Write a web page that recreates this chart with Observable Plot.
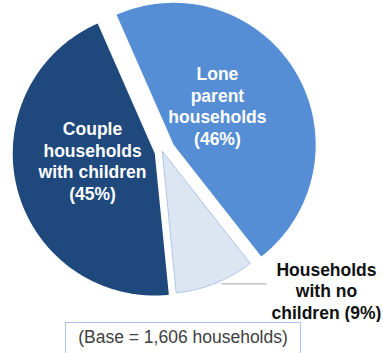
<!DOCTYPE html>
<html><head><meta charset="utf-8">
<script src="https://cdn.jsdelivr.net/npm/d3@7"></script>
<script src="https://cdn.jsdelivr.net/npm/@observablehq/plot@0.6"></script>
<style>
html,body{margin:0;padding:0;background:#fff;overflow:hidden}
#chart svg{display:block}
.base{margin-left:65px;width:236px;height:40px;border:1.5px solid #a9c3e6;border-bottom:none;font:17.5px "Liberation Sans",Arial,sans-serif;color:#404040;text-align:center;padding-top:4px;box-sizing:border-box;white-space:nowrap}
</style></head><body>
<div id="chart"></div>
<div class="base" id="base"></div>
<script>
// ---- data ----
const categories = ["Lone parent households", "Households with no children", "Couple households with children"];
const shares = [46, 9, 45];
const colors = ["#558ed5", "#dce6f2", "#1f497d"];
const labelLines = [["Lone", "parent", "households"], ["Households", "with no", "children"], ["Couple", "households", "with children"]];
const baseNote = "(Base = 1,606 households)";

// ---- layout ----
const W = 383, H = 322, R = 142, CX = 162, CY = 151;
const startDeg = -23.7;
const explodePx = [13, 0, 8];
const labelPlace = [{a: 48.1, r: 0.414}, {a: 130.3, r: 1.514, outside: true}, {a: 263.6, r: 0.441}];
const rad = d => d * Math.PI / 180;

const rows = categories.map((c, i) => ({category: c, share: shares[i], i}));
const arcs = d3.pie().sort(null).value(d => d.share)
  .startAngle(rad(startDeg)).endAngle(rad(startDeg + 360))(rows);

const pts = [];
const labels = [];
arcs.forEach(a => {
  const i = a.data.i;
  const mid = (a.startAngle + a.endAngle) / 2;
  const e = explodePx[i] / R;
  const ox = e * Math.sin(mid), oy = e * Math.cos(mid);
  pts.push({category: a.data.category, x: ox, y: oy});
  const n = Math.max(2, Math.ceil((a.endAngle - a.startAngle) / (Math.PI / 360)));
  for (let k = 0; k <= n; k++) {
    const t = a.startAngle + (a.endAngle - a.startAngle) * k / n;
    pts.push({category: a.data.category, x: ox + Math.sin(t), y: oy + Math.cos(t)});
  }
  const lp = labelPlace[i];
  const bx = lp.outside ? 0 : ox, by = lp.outside ? 0 : oy;
  const lines = labelLines[i].slice();
  const pct = `(${a.data.share}%)`;
  if (lp.outside) lines[lines.length - 1] += " " + pct; else lines.push(pct);
  labels.push({text: lines.join("\n"), x: bx + lp.r * Math.sin(rad(lp.a)), y: by + lp.r * Math.cos(rad(lp.a)), outside: !!lp.outside});
});

const lightCat = categories[1];
const la = rad(156), lr = 1.02;
const leader = [{x1: lr * Math.sin(la), y1: lr * Math.cos(la), x2: lr * Math.sin(la) + 45 / R, y2: lr * Math.cos(la)}];

const font = "'Liberation Sans', Arial, sans-serif";
const chart = Plot.plot({
  width: W, height: H,
  margin: 0,
  x: {domain: [-CX / R, (W - CX) / R], axis: null},
  y: {domain: [-(H - CY) / R, CY / R], axis: null},
  color: {domain: categories, range: colors},
  style: {fontFamily: font, background: "#fff"},
  marks: [
    Plot.line(pts, {x: "x", y: "y", z: "category", fill: "category", stroke: "none", curve: "linear-closed"}),
    Plot.line(pts.filter(d => d.category === lightCat), {x: "x", y: "y", stroke: "#a3bde3", strokeWidth: 0.9, curve: "linear-closed"}),
    Plot.link(leader, {x1: "x1", y1: "y1", x2: "x2", y2: "y2", stroke: "#c4c4c4", strokeWidth: 1.6}),
    Plot.text(labels, {x: "x", y: "y", text: "text", fill: d => d.outside ? "#111" : "#fff",
      fontSize: 17.5, fontWeight: "bold", lineHeight: 1.23, lineAnchor: "middle", textAnchor: "middle"})
  ]
});
document.getElementById("chart").appendChild(chart);
document.getElementById("base").textContent = baseNote;
</script>
</body></html>
